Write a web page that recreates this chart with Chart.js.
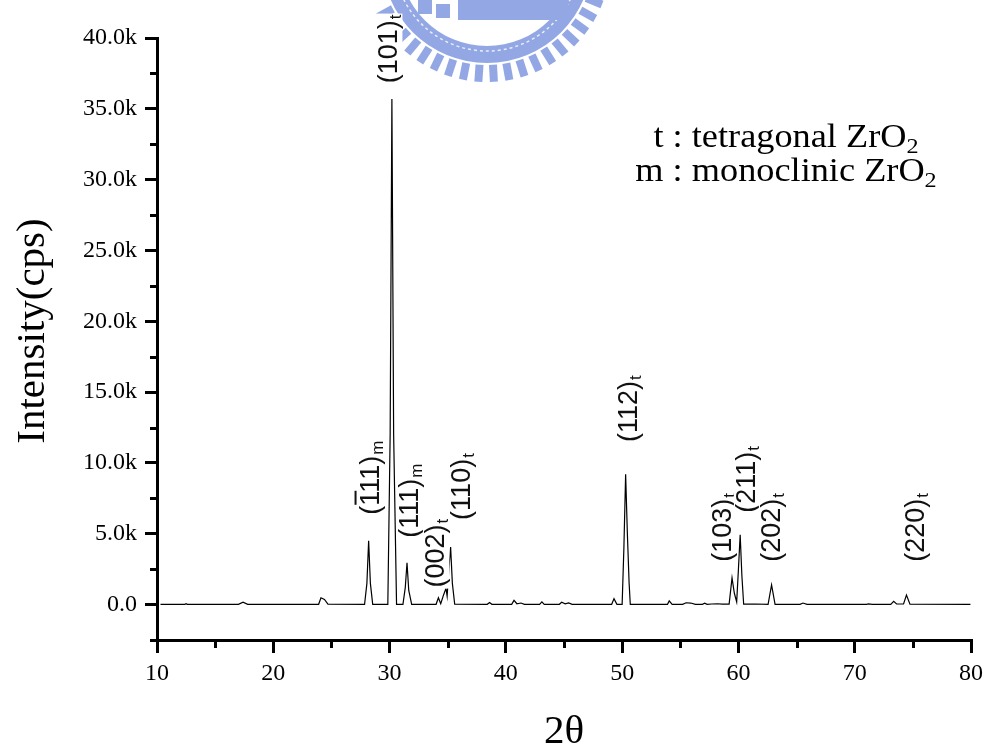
<!DOCTYPE html>
<html>
<head>
<meta charset="utf-8">
<script src="https://cdn.jsdelivr.net/npm/chart.js@4.4.0/dist/chart.umd.min.js"></script>
<style>
  html, body { margin: 0; padding: 0; background: #fff; }
</style>
</head>
<body>
<canvas id="xrd" width="989" height="751"></canvas>
<script>
// XRD pattern
const twoTheta = [
    10.3, 12.4, 12.5, 12.6, 17.0, 17.4, 17.8, 23.9, 24.1, 24.4, 24.7,
    27.85, 28.05, 28.2, 28.35, 28.55, 29.85, 30.05, 30.2, 30.35, 30.6,
    31.15, 31.35, 31.5, 31.65, 31.9, 34.0, 34.2, 34.4, 34.65, 34.85, 34.95,
    35.1, 35.25, 35.4, 35.6, 38.4, 38.6, 38.8, 40.5, 40.7, 40.95, 41.3, 41.6,
    42.9, 43.1, 43.3, 44.6, 44.8, 45.1, 45.4, 45.7, 49.1, 49.3, 49.55,
    50.0, 50.15, 50.3, 50.45, 50.6, 50.7, 53.9, 54.05, 54.3, 55.2, 55.5, 55.9,
    56.3, 56.9, 57.1, 57.3, 57.7, 58.2, 58.6, 59.2, 59.45, 59.65, 59.85,
    60.0, 60.15, 60.3, 60.45, 61.5, 62.55, 62.85, 63.15, 65.3, 65.55, 65.9,
    71.0, 71.2, 71.5, 73.1, 73.35, 73.6, 74.2, 74.45, 74.75, 79.95
];
const intensity = [
    20, 20, 60, 20, 20, 170, 20, 20, 480, 360, 30,
    20, 1500, 4500, 1500, 20, 20, 12000, 35700, 12000, 20,
    20, 1200, 2950, 1000, 20, 20, 480, 60, 700, 1150, 600,
    2500, 4060, 1500, 30, 20, 150, 20, 20, 300, 60, 110, 20,
    20, 190, 20, 20, 160, 50, 120, 20, 20, 420, 20,
    20, 4000, 9200, 5000, 1500, 20, 20, 260, 20, 20, 130, 110,
    20, 20, 100, 20, 40, 60, 30, 30, 1880, 800, 190,
    2500, 4930, 2000, 30, 40, 20, 1390, 20, 20, 110, 20,
    20, 50, 20, 20, 230, 40, 40, 680, 30, 20
];

// reflection labels
const peakNames = ['(111)', '(101)', '(111)', '(002)', '(110)', '(112)', '(103)', '(211)', '(202)', '(220)'];
const peakPhase = ['m', 't', 'm', 't', 't', 't', 't', 't', 't', 't'];
const peakBar = [true, false, false, false, false, false, false, false, false, false];
const labelX = [28.23, 29.78, 31.58, 33.82, 36.05, 50.41, 58.5, 60.56, 62.71, 75.09];
const labelY = [6340, 36800, 4720, 1200, 5980, 11480, 3030, 6480, 3030, 3030];

const legendLines = [['t : tetragonal ZrO', '2'], ['m : monoclinic ZrO', '2']];

const serif = "'Liberation Serif', 'Times New Roman', serif";
const sans = "'Liberation Sans', Arial, sans-serif";

function fmtK(v) {
    if (v === 0) return '0.0';
    return (v / 1000).toFixed(1) + 'k';
}

// faint logo behind the plot top
const watermark = {
    id: 'watermark',
    beforeDraw(chart) {
        const ctx = chart.ctx;
        const cx = 487, cy = -42;
        const blue = 'rgb(146,167,228)';
        ctx.save();
        ctx.fillStyle = blue;
        ctx.beginPath();
        ctx.arc(cx, cy, 105, 0, Math.PI);
        ctx.arc(cx, cy, 88, Math.PI, 0, true);
        ctx.closePath();
        ctx.fill();
        ctx.strokeStyle = 'rgba(255,255,255,0.8)';
        ctx.lineWidth = 1.5;
        ctx.setLineDash([3, 3]);
        ctx.beginPath();
        ctx.arc(cx, cy, 93, 0, Math.PI);
        ctx.stroke();
        ctx.setLineDash([]);
        ctx.strokeStyle = blue;
        ctx.lineWidth = 8;
        for (let a = 22; a <= 158; a += 7.2) {
            const r = a * Math.PI / 180;
            ctx.beginPath();
            ctx.moveTo(cx + Math.cos(r) * 107, cy + Math.sin(r) * 107);
            ctx.lineTo(cx + Math.cos(r) * 124, cy + Math.sin(r) * 124);
            ctx.stroke();
        }
        ctx.fillRect(458, 0, 110, 20);
        ctx.fillRect(418, 0, 14, 14);
        ctx.fillRect(436, 4, 14, 14);
        ctx.restore();
    }
};

// minor ticks, peak labels, titles, legend text
const decorations = {
    id: 'decorations',
    afterDraw(chart) {
        const { ctx, scales: { x, y } } = chart;
        ctx.save();
        ctx.strokeStyle = '#000';
        ctx.lineWidth = 3;
        y.ticks.forEach(t => {
            if (t.value % 5000 !== 0) {
                const py = Math.round(y.getPixelForValue(t.value)) + 0.5;
                ctx.beginPath();
                ctx.moveTo(x.left - 7, py);
                ctx.lineTo(x.left, py);
                ctx.stroke();
            }
        });
        x.ticks.forEach(t => {
            if (t.value % 10 !== 0) {
                const px = Math.round(x.getPixelForValue(t.value)) + 0.5;
                ctx.beginPath();
                ctx.moveTo(px, y.bottom);
                ctx.lineTo(px, y.bottom + 8);
                ctx.stroke();
            }
        });

        // hkl labels, rotated
        const fs = 27, sfs = 17;
        peakNames.forEach((name, i) => {
            const px = x.getPixelForValue(labelX[i]);
            const py = y.getPixelForValue(labelY[i]);
            ctx.save();
            ctx.translate(px, py);
            ctx.rotate(-Math.PI / 2);
            ctx.font = fs + 'px ' + sans;
            const w = ctx.measureText(name).width;
            ctx.font = sfs + 'px ' + sans;
            const ws = ctx.measureText(peakPhase[i]).width;
            const base = 10;
            ctx.fillStyle = '#fff';
            ctx.fillRect(-1, base - fs * 0.78, w + ws + 3, fs * 0.98);
            ctx.fillStyle = '#111';
            ctx.font = fs + 'px ' + sans;
            ctx.textAlign = 'left';
            ctx.textBaseline = 'alphabetic';
            ctx.fillText(name, 0, base);
            ctx.font = sfs + 'px ' + sans;
            ctx.fillText(peakPhase[i], w + 1, base + 4);
            if (peakBar[i]) {
                ctx.font = fs + 'px ' + sans;
                const wp = ctx.measureText('(').width;
                const wd = ctx.measureText('1').width;
                ctx.strokeStyle = '#111';
                ctx.lineWidth = 2;
                ctx.beginPath();
                ctx.moveTo(wp + 1, base - fs * 0.72 - 4);
                ctx.lineTo(wp + wd, base - fs * 0.72 - 4);
                ctx.stroke();
            }
            ctx.restore();
        });

        // axis titles
        ctx.fillStyle = '#000';
        ctx.font = '41px ' + serif;
        ctx.textAlign = 'center';
        ctx.textBaseline = 'alphabetic';
        ctx.fillText('2\u03B8', 564, 743);
        ctx.save();
        ctx.translate(44, 331);
        ctx.rotate(-Math.PI / 2);
        ctx.fillText('Intensity(cps)', 0, 0);
        ctx.restore();

        // phase legend (slightly wide face, as in the original)
        const lfs = 33, lsub = 22, stretch = 1.1;
        legendLines.forEach((ln, i) => {
            ctx.font = lfs + 'px ' + serif;
            const w1 = ctx.measureText(ln[0]).width;
            ctx.font = lsub + 'px ' + serif;
            const w2 = ctx.measureText(ln[1]).width;
            const by = 147 + i * 34;
            ctx.save();
            ctx.translate(786, by);
            ctx.scale(stretch, 1);
            const left = -(w1 + w2) / 2;
            ctx.textAlign = 'left';
            ctx.font = lfs + 'px ' + serif;
            ctx.fillText(ln[0], left, 0);
            ctx.font = lsub + 'px ' + serif;
            ctx.fillText(ln[1], left + w1, 6);
            ctx.restore();
        });
        ctx.restore();
    }
};

new Chart(document.getElementById('xrd').getContext('2d'), {
    type: 'line',
    data: {
        datasets: [{
            data: twoTheta.map((t, i) => ({ x: t, y: intensity[i] })),
            borderColor: '#000',
            borderWidth: 1.2,
            pointRadius: 0,
            tension: 0,
            fill: false
        }]
    },
    options: {
        responsive: false,
        animation: false,
        layout: { padding: { left: 0, top: 38, right: 18, bottom: 0 } },
        plugins: {
            legend: { display: false },
            tooltip: { enabled: false }
        },
        scales: {
            x: {
                type: 'linear',
                min: 10,
                max: 80,
                afterFit: (s) => { s.height = 111; },
                border: { display: true, color: '#000', width: 3 },
                grid: {
                    drawOnChartArea: false,
                    tickLength: 13,
                    lineWidth: 3,
                    tickColor: (c) => (c.tick && c.tick.value % 10 === 0) ? '#000' : 'rgba(0,0,0,0)'
                },
                ticks: {
                    stepSize: 5,
                    autoSkip: false,
                    maxRotation: 0,
                    padding: 6,
                    color: '#000',
                    font: { family: serif, size: 24 },
                    callback: (v) => v % 10 === 0 ? String(v) : ''
                }
            },
            y: {
                min: -2500,
                max: 40000,
                afterFit: (s) => { s.width = 157; },
                border: { display: true, color: '#000', width: 3 },
                grid: {
                    drawOnChartArea: false,
                    tickLength: 12,
                    lineWidth: 3,
                    tickColor: (c) => (c.tick && c.tick.value % 5000 === 0) ? '#000' : 'rgba(0,0,0,0)'
                },
                ticks: {
                    stepSize: 2500,
                    autoSkip: false,
                    padding: 8,
                    color: '#000',
                    font: { family: serif, size: 24 },
                    callback: (v) => v % 5000 === 0 ? fmtK(v) : ''
                }
            }
        }
    },
    plugins: [watermark, decorations]
});
</script>
</body>
</html>
